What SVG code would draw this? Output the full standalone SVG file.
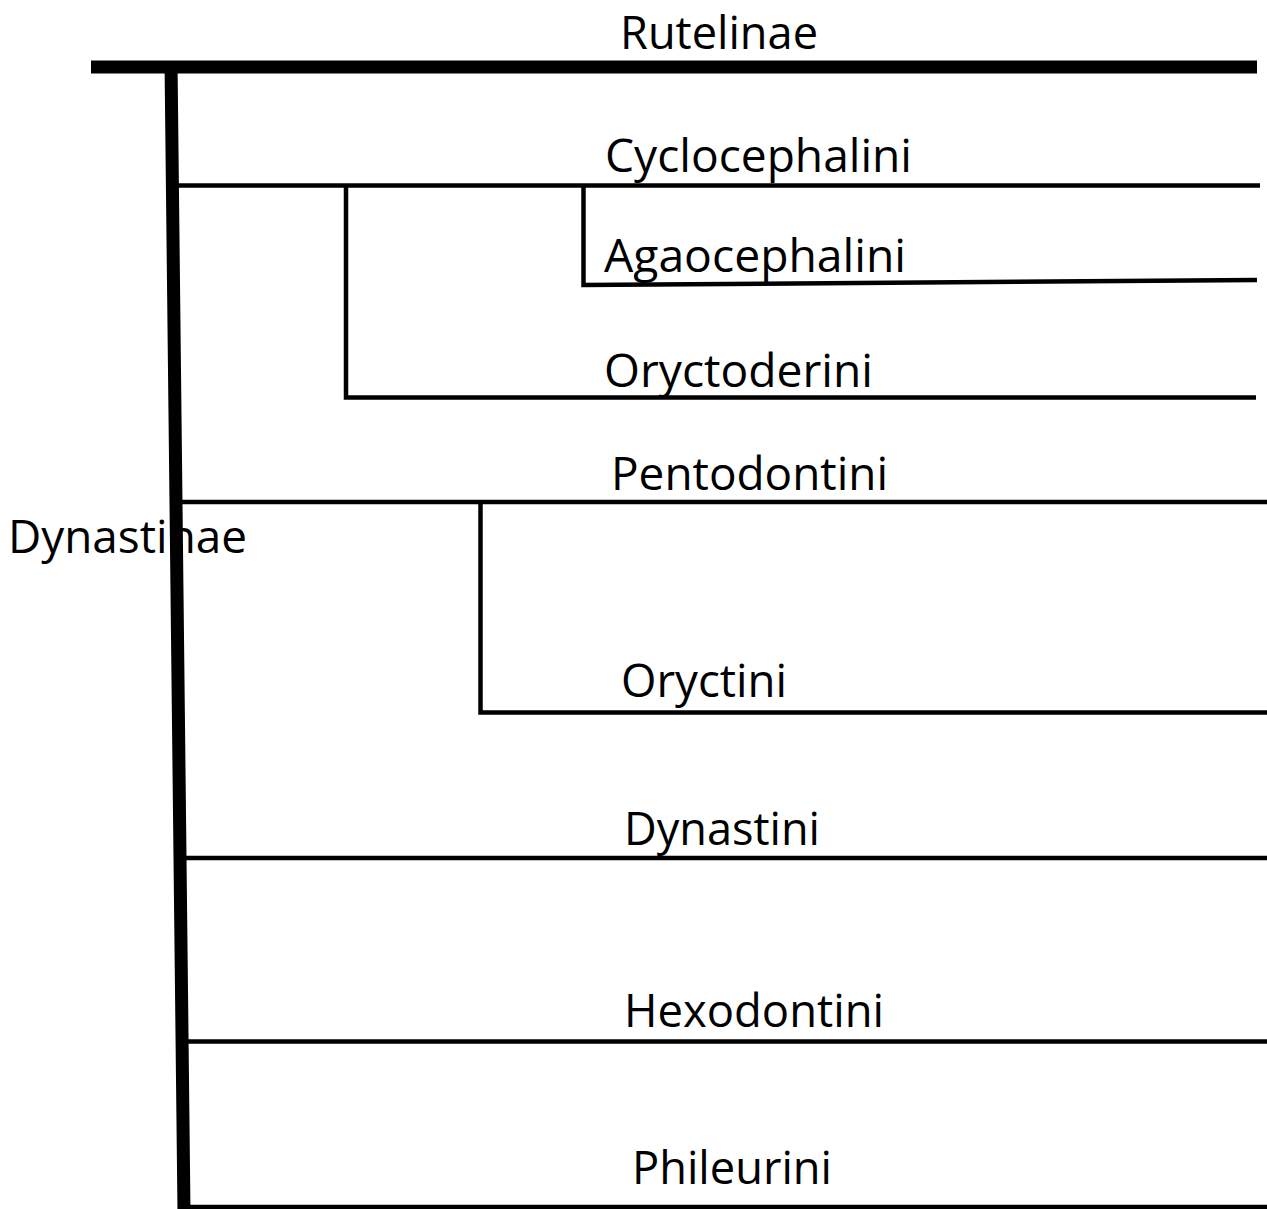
<svg xmlns="http://www.w3.org/2000/svg" width="1267" height="1209" viewBox="0 0 1267 1209">
<style>
.lbl{font-family:"Open Sans","Liberation Sans",sans-serif;font-size:46px;fill:#000}
.thick{stroke:#000;stroke-width:13;fill:none}
.thin{stroke:#000;stroke-width:4.5;fill:none}
</style>
<rect width="1267" height="1209" fill="#fff"/>
<g id="connectors">
<line class="thick" x1="91" y1="67" x2="1257" y2="67"/>
<line class="thick" x1="171" y1="61" x2="184" y2="1212"/>
<line class="thin" x1="177" y1="185.5" x2="1260" y2="185.5"/>
<polyline class="thin" points="583.5,185.5 583.5,285 1257,280"/>
<polyline class="thin" points="346,185.5 346,397.5 1256,397.5"/>
<line class="thin" x1="178" y1="502" x2="1267" y2="502"/>
<polyline class="thin" points="480.5,502 480.5,712.5 1267,712.5"/>
<line class="thin" x1="186" y1="858" x2="1267" y2="858"/>
<line class="thin" x1="188" y1="1041.5" x2="1267" y2="1041.5"/>
<line class="thin" x1="190" y1="1207" x2="1267" y2="1207"/>
</g>
<g id="node-rutelinae"><text class="lbl" x="620" y="48.5" textLength="198" lengthAdjust="spacingAndGlyphs">Rutelinae</text></g>
<g id="node-cyclocephalini"><text class="lbl" x="605" y="171.5" textLength="307" lengthAdjust="spacingAndGlyphs">Cyclocephalini</text></g>
<g id="node-agaocephalini"><text class="lbl" x="604" y="271.5" textLength="302" lengthAdjust="spacingAndGlyphs">Agaocephalini</text></g>
<g id="node-oryctoderini"><text class="lbl" x="604" y="386.5" textLength="269" lengthAdjust="spacingAndGlyphs">Oryctoderini</text></g>
<g id="node-pentodontini"><text class="lbl" x="611" y="490" textLength="277" lengthAdjust="spacingAndGlyphs">Pentodontini</text></g>
<g id="node-dynastinae"><text class="lbl" x="8" y="553" textLength="239" lengthAdjust="spacingAndGlyphs">Dynastinae</text></g>
<g id="node-oryctini"><text class="lbl" x="621" y="696.5" textLength="166" lengthAdjust="spacingAndGlyphs">Oryctini</text></g>
<g id="node-dynastini"><text class="lbl" x="624" y="845" textLength="196" lengthAdjust="spacingAndGlyphs">Dynastini</text></g>
<g id="node-hexodontini"><text class="lbl" x="624" y="1026.5" textLength="260" lengthAdjust="spacingAndGlyphs">Hexodontini</text></g>
<g id="node-phileurini"><text class="lbl" x="632" y="1184" textLength="200" lengthAdjust="spacingAndGlyphs">Phileurini</text></g>
</svg>
